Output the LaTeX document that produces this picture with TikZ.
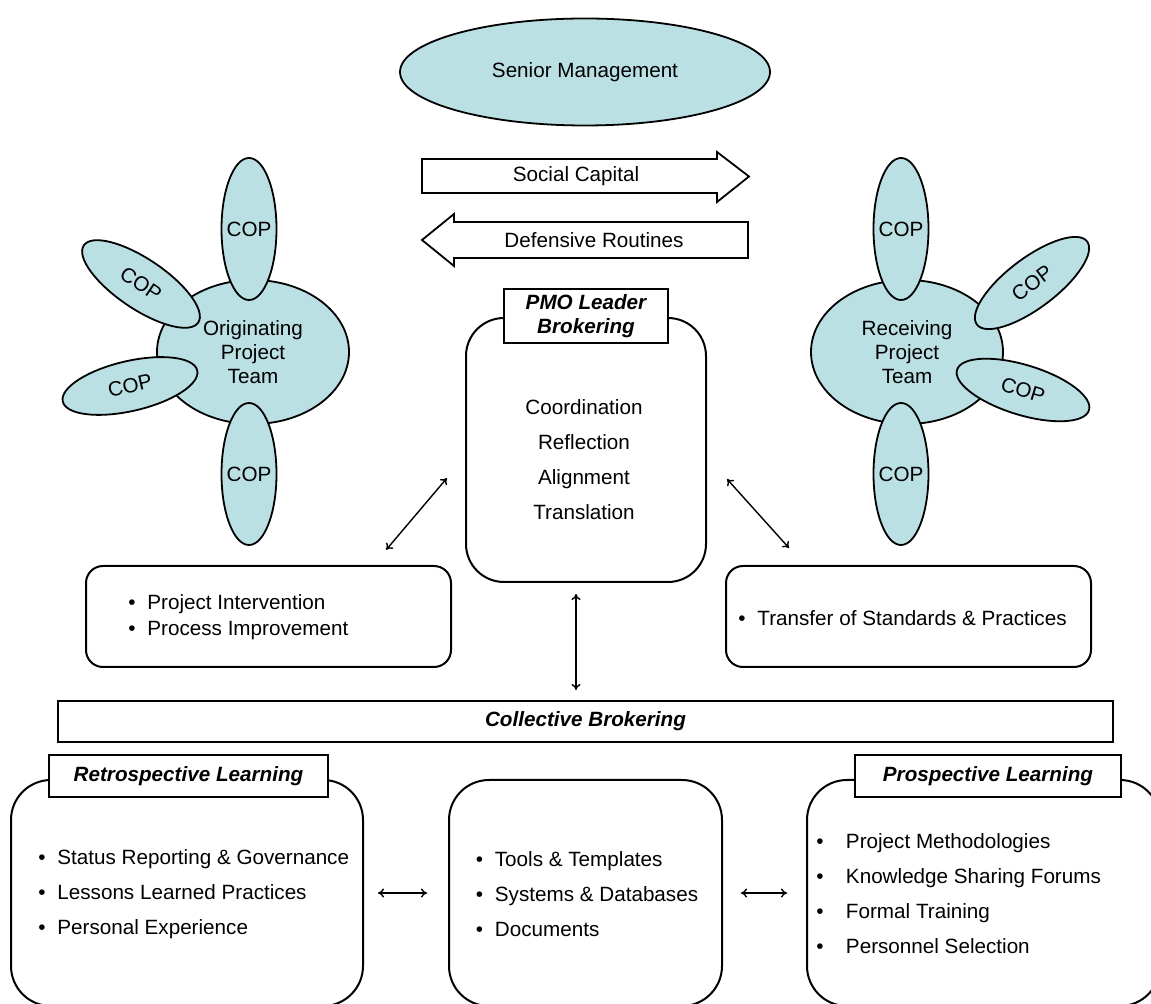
\documentclass[tikz,border=0pt]{standalone}
\usepackage{fontspec}
\setmainfont{Liberation Sans}
\usepackage{xcolor}
\usetikzlibrary{positioning, arrows.meta, shapes.geometric}

\definecolor{copfill}{RGB}{187,224,227}
\newcommand{\basefont}{\fontsize{10.33}{12}\selectfont}
\newcommand{\itm}{\makebox[9.5pt][l]{\textbullet}}
\newcommand{\pitm}{\makebox[14.8pt][l]{\textbullet}}

\begin{document}
\begin{tikzpicture}[
  x=0.5pt, y=-0.5pt,
  every node/.style={font=\basefont},
  blob/.style={ellipse, draw, fill=copfill, line width=0.9pt, inner sep=0pt},
  team/.style={blob, minimum width=96pt, minimum height=72pt, align=center},
  cop/.style={blob, inner xsep=-2pt, minimum width=27.5pt, minimum height=71pt},
  copt/.style={blob, minimum width=69pt, minimum height=25pt},
  panel/.style={draw, line width=1pt, fill=white, inner sep=0pt},
  head/.style={draw, line width=1pt, fill=white, inner sep=0pt,
               font=\basefont\bfseries\itshape, align=center},
  list/.style={inner sep=0pt, anchor=west, align=left,
               font=\fontsize{10.33}{17.5}\selectfont},
  flow/.style={draw, line width=0.9pt, fill=white},
  arr/.style={{To[length=3pt,width=4.5pt]}-{To[length=3pt,width=4.5pt]}, line width=0.7pt},
]
\useasboundingbox (0,0) rectangle (1151,1004);
\clip (0,0) rectangle (1151,1004);

% top
\node[blob, minimum width=185pt, minimum height=53.5pt] (sm) at (585,72) {Senior Management};

\draw[flow] (422,159) -- (717,159) -- (717,152) -- (749,176.5) -- (717,202) -- (717,193) -- (422,193) -- cycle;
\node (soc) at (576,176.5) {Social Capital};
\draw[flow] (748,222) -- (454,222) -- (454,214) -- (422,240) -- (454,266) -- (454,258) -- (748,258) -- cycle;
\node (def) at (594,240) {Defensive Routines};

% originating team
\node[team] (orig) at (253,352) {Originating\\Project\\Team};
\node[cop] (oc1) at (249,229) {COP};
\node[copt, rotate=-34] (oc2) at (141,284) {COP};
\node[copt, rotate=13] (oc3) at (130,386) {COP};
\node[cop] (oc4) at (249,474) {COP};

% receiving team
\node[team] (recv) at (907,352) {Receiving\\Project\\Team};
\node[cop] (rc1) at (901,229) {COP};
\node[copt, rotate=37] (rc2) at (1032,283) {COP};
\node[copt, rotate=-17] (rc3) at (1023,390) {COP};
\node[cop] (rc4) at (901,474) {COP};

% pmo leader
\node[panel, rounded corners=19pt, minimum width=120pt, minimum height=132pt] (pmo) at (586,450) {};
\node[head, minimum width=82pt, minimum height=27pt] (pmohead) at (586,316) {PMO Leader\\Brokering};
\node[list, anchor=center, align=center] (pmolist) at (584,460) {Coordination\\Reflection\\Alignment\\Translation};

\node[panel, rounded corners=8.5pt, minimum width=182.5pt, minimum height=50.5pt] (interv) at (268.5,616.5) {};
\node[list, font=\fontsize{10.33}{13}\selectfont] (intervlist) at (128,617) {\itm Project Intervention\\\itm Process Improvement};
\node[panel, rounded corners=8.5pt, minimum width=182.5pt, minimum height=50.5pt] (transfer) at (908.5,616.5) {};
\node[list] (transferlist) at (738,618) {\itm Transfer of Standards \& Practices};

\node[head, minimum width=527.5pt, minimum height=20.5pt] (coll) at (585.5,721.5) {Collective Brokering};

% learning
\node[panel, rounded corners=20pt, minimum width=176pt, minimum height=113pt] (retro) at (187,893) {};
\node[head, minimum width=139.5pt, minimum height=21pt] (retrohead) at (188.5,776) {Retrospective Learning};
\node[list] (retrolist) at (38,894) {\itm Status Reporting \& Governance\\\itm Lessons Learned Practices\\\itm Personal Experience};

\node[panel, rounded corners=20pt, minimum width=136.5pt, minimum height=113pt] (mid) at (585.5,893) {};
\node[list] (midlist) at (475.5,894) {\itm Tools \& Templates\\\itm Systems \& Databases\\\itm Documents};

\node[panel, rounded corners=20pt, minimum width=176.5pt, minimum height=113pt] (prosp) at (983.5,893) {};
\node[head, minimum width=133pt, minimum height=21pt] (prosphead) at (988,776) {Prospective Learning};
\node[list] (prosplist) at (816,894) {\pitm Project Methodologies\\\pitm Knowledge Sharing Forums\\\pitm Formal Training\\\pitm Personnel Selection};

\draw[arr, shorten <=14pt, shorten >=10pt] ([yshift=-3.4pt]pmo.west) -- ([xshift=52.4pt]interv.north);
\draw[arr, shorten <=15pt, shorten >=11.4pt] ([yshift=-3.4pt]pmo.east) -- ([xshift=-52.1pt]transfer.north);
\draw[arr, shorten <=5.5pt, shorten >=5pt] ([xshift=-5pt]pmo.south) -- ([xshift=-5pt]pmo.south |- coll.north);
\draw[arr, shorten <=7pt, shorten >=10.5pt] (retro.east) -- (mid.west);
\draw[arr, shorten <=9pt, shorten >=9.5pt] (mid.east) -- (prosp.west);
\end{tikzpicture}
\end{document}
